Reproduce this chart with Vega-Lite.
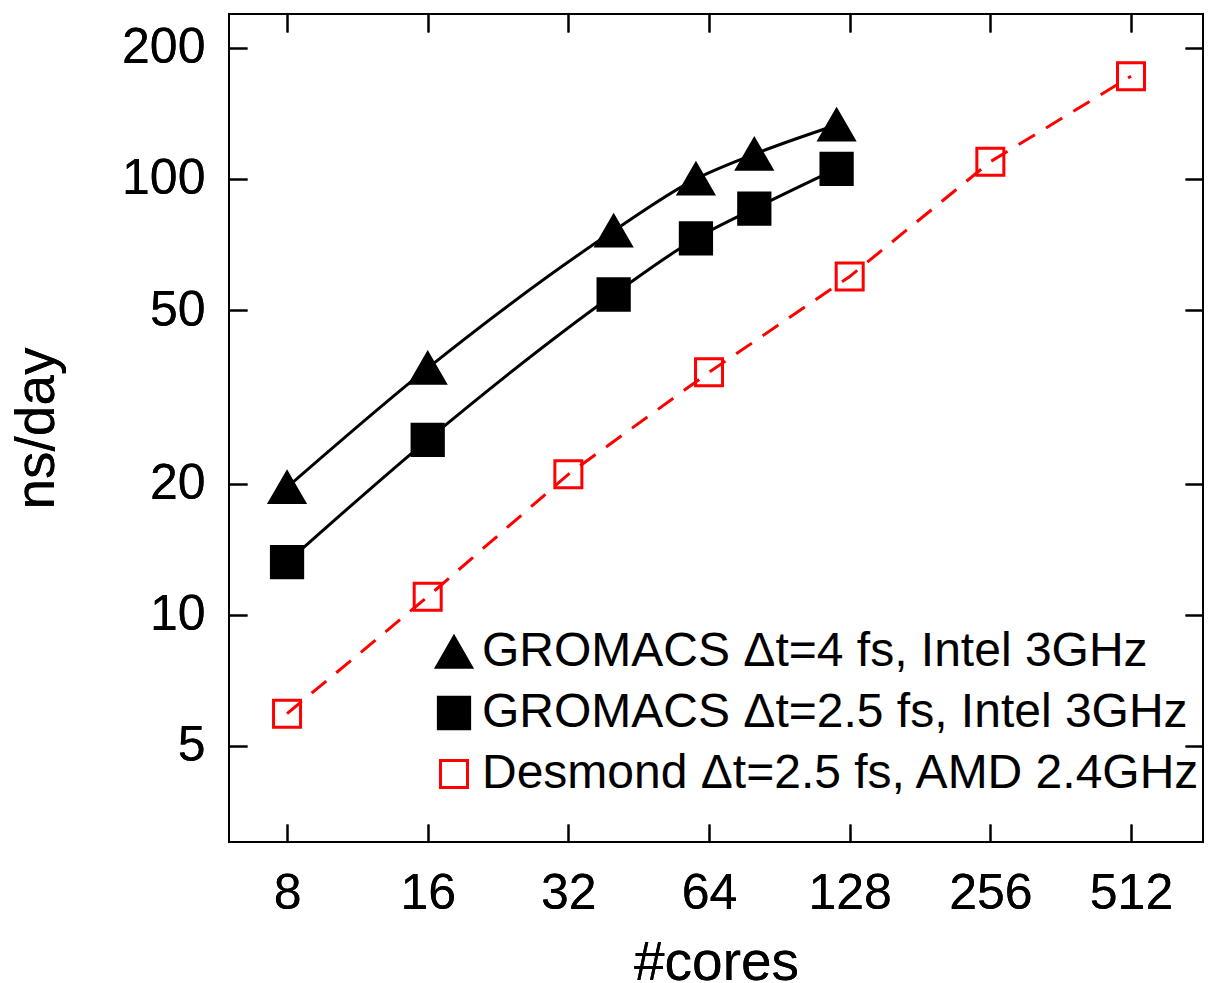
{
  "$schema": "https://vega.github.io/schema/vega-lite/v6.json",
  "width": 974,
  "height": 828,
  "autosize": "none",
  "padding": {"left": 229, "top": 14, "right": 10, "bottom": 141},
  "background": "white",
  "config": {
    "font": "Liberation Sans",
    "view": {"stroke": "black", "strokeWidth": 2},
    "axis": {
      "grid": false,
      "domain": false,
      "tickColor": "black",
      "tickWidth": 2,
      "labelColor": "black",
      "titleColor": "black",
      "labelFontSize": 50,
      "titleFontSize": 55,
      "titleFontWeight": "normal",
      "labelFont": "Liberation Sans",
      "titleFont": "Liberation Sans"
    }
  },
  "data": {
    "values": [
      {"series": "GROMACS Δt=4 fs, Intel 3GHz", "cores": 8, "nsday": 19.6},
      {"series": "GROMACS Δt=4 fs, Intel 3GHz", "cores": 16, "nsday": 36.8},
      {"series": "GROMACS Δt=4 fs, Intel 3GHz", "cores": 40, "nsday": 76},
      {"series": "GROMACS Δt=4 fs, Intel 3GHz", "cores": 60, "nsday": 100},
      {"series": "GROMACS Δt=4 fs, Intel 3GHz", "cores": 80, "nsday": 114},
      {"series": "GROMACS Δt=4 fs, Intel 3GHz", "cores": 120, "nsday": 133},
      {"series": "GROMACS Δt=2.5 fs, Intel 3GHz", "cores": 8, "nsday": 13.2},
      {"series": "GROMACS Δt=2.5 fs, Intel 3GHz", "cores": 16, "nsday": 25.2},
      {"series": "GROMACS Δt=2.5 fs, Intel 3GHz", "cores": 40, "nsday": 54.3},
      {"series": "GROMACS Δt=2.5 fs, Intel 3GHz", "cores": 60, "nsday": 73},
      {"series": "GROMACS Δt=2.5 fs, Intel 3GHz", "cores": 80, "nsday": 85.5},
      {"series": "GROMACS Δt=2.5 fs, Intel 3GHz", "cores": 120, "nsday": 105.5},
      {"series": "Desmond Δt=2.5 fs, AMD 2.4GHz", "cores": 8, "nsday": 5.93},
      {"series": "Desmond Δt=2.5 fs, AMD 2.4GHz", "cores": 16, "nsday": 11.0},
      {"series": "Desmond Δt=2.5 fs, AMD 2.4GHz", "cores": 32, "nsday": 21.0},
      {"series": "Desmond Δt=2.5 fs, AMD 2.4GHz", "cores": 64, "nsday": 36.0},
      {"series": "Desmond Δt=2.5 fs, AMD 2.4GHz", "cores": 128, "nsday": 59.7},
      {"series": "Desmond Δt=2.5 fs, AMD 2.4GHz", "cores": 256, "nsday": 109.5},
      {"series": "Desmond Δt=2.5 fs, AMD 2.4GHz", "cores": 512, "nsday": 172}
    ]
  },
  "encoding": {
    "x": {
      "field": "cores", "type": "quantitative",
      "scale": {"type": "log", "base": 2, "domain": [6.01, 730], "nice": false},
      "axis": {"values": [8, 16, 32, 64, 128, 256, 512], "tickSize": -18, "labelPadding": 44, "title": "#cores", "titlePadding": 18, "labelFlush": false, "labelOverlap": false}
    },
    "y": {
      "field": "nsday", "type": "quantitative",
      "scale": {"type": "log", "domain": [3.01, 239], "nice": false},
      "axis": {"values": [5, 10, 20, 50, 100, 200], "tickSize": -18, "labelPadding": 42, "title": "ns/day", "titlePadding": 56, "labelFlush": false, "labelOverlap": false}
    }
  },
  "resolve": {"axis": {"x": "independent", "y": "independent"}},
  "layer": [
    {
      "mark": {"type": "point", "opacity": 0},
      "encoding": {
        "x": {
          "field": "cores", "type": "quantitative",
          "axis": {"orient": "top", "values": [8, 16, 32, 64, 128, 256, 512], "tickSize": -18, "labels": false, "title": null}
        },
        "y": {
          "field": "nsday", "type": "quantitative",
          "axis": {"orient": "right", "values": [5, 10, 20, 50, 100, 200], "tickSize": -18, "labels": false, "title": null}
        }
      }
    },
    {
      "transform": [{"filter": "datum.series != 'Desmond Δt=2.5 fs, AMD 2.4GHz'"}],
      "mark": {"type": "line", "color": "black", "strokeWidth": 3, "interpolate": "monotone"},
      "encoding": {"detail": {"field": "series"}}
    },
    {
      "transform": [{"filter": "datum.series == 'Desmond Δt=2.5 fs, AMD 2.4GHz'"}],
      "mark": {"type": "line", "color": "red", "strokeWidth": 3, "strokeDash": [19, 13]},
      "encoding": {}
    },
    {
      "mark": {"type": "point", "filled": false, "strokeWidth": 3, "opacity": 1},
      "encoding": {
        "color": {
          "field": "series", "type": "nominal",
          "scale": {"domain": ["GROMACS Δt=4 fs, Intel 3GHz", "GROMACS Δt=2.5 fs, Intel 3GHz", "Desmond Δt=2.5 fs, AMD 2.4GHz"], "range": ["black", "black", "red"]},
          "legend": {
            "orient": "none",
            "legendX": 201,
            "legendY": 614,
            "title": null,
            "labelFontSize": 48,
            "labelFont": "Liberation Sans",
            "labelColor": "black",
            "symbolStrokeWidth": 3,
            "labelOffset": 4,
            "rowPadding": 13,
            "padding": 0,
            "labelLimit": 900
          }
        },
        "shape": {
          "field": "series", "type": "nominal",
          "scale": {"domain": ["GROMACS Δt=4 fs, Intel 3GHz", "GROMACS Δt=2.5 fs, Intel 3GHz", "Desmond Δt=2.5 fs, AMD 2.4GHz"], "range": ["triangle-up", "square", "square"]}
        },
        "fill": {
          "field": "series", "type": "nominal",
          "scale": {"domain": ["GROMACS Δt=4 fs, Intel 3GHz", "GROMACS Δt=2.5 fs, Intel 3GHz", "Desmond Δt=2.5 fs, AMD 2.4GHz"], "range": ["black", "black", "transparent"]}
        },
        "size": {
          "field": "series", "type": "nominal",
          "scale": {"domain": ["GROMACS Δt=4 fs, Intel 3GHz", "GROMACS Δt=2.5 fs, Intel 3GHz", "Desmond Δt=2.5 fs, AMD 2.4GHz"], "range": [1225, 729, 576]}
        }
      }
    }
  ]
}
